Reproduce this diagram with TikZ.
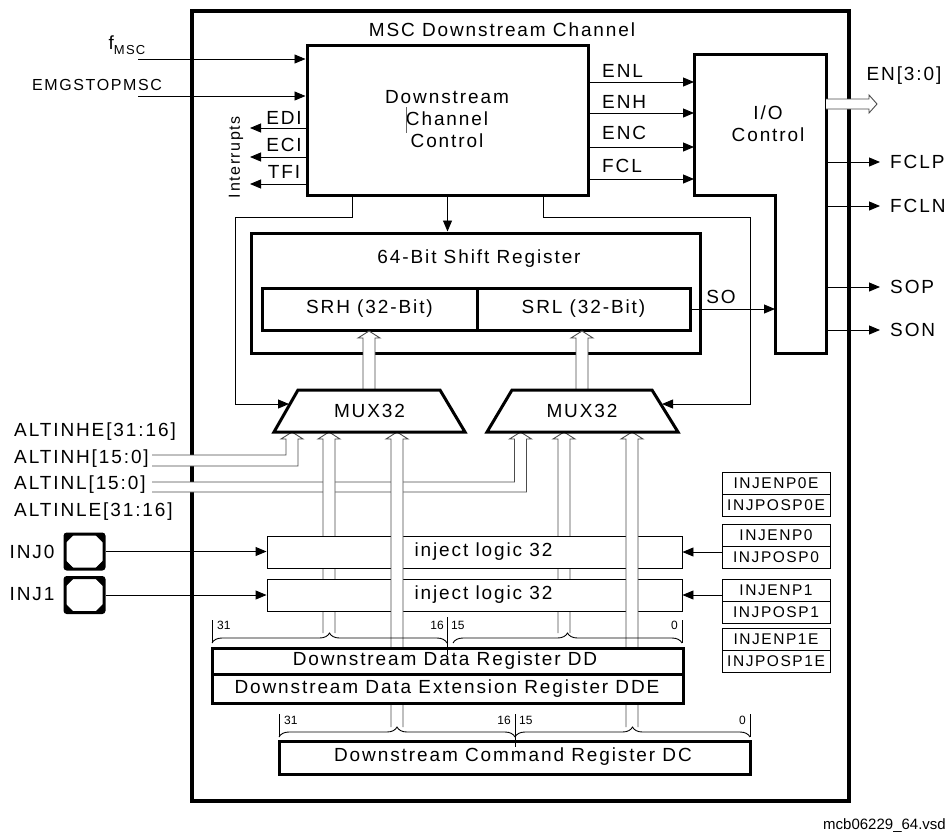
\documentclass[tikz,border=0pt]{standalone}
\usepackage{fontspec}
\setmainfont{Liberation Sans}[LetterSpace=10]
\newfontfamily\plainfont{Liberation Sans}
\usetikzlibrary{arrows.meta,decorations.pathreplacing,calc}
\newcommand\fsz[1]{\fontsize{#1}{#1}\selectfont}
\newcommand\hollowup[3]{\filldraw[hbus] (#1-6,#2) -- (#1-6,#3+7) -- (#1-11,#3+7) -- (#1,#3) -- (#1+11,#3+7) -- (#1+6,#3+7) -- (#1+6,#2);}
\newcommand\padcorners[1]{%
  \filldraw[line width=0.7pt] ($(#1.north west)+(3,3)$) -- ++(6,0) -- ++(-6,6) -- cycle;
  \filldraw[line width=0.7pt] ($(#1.north east)+(-3,3)$) -- ++(-6,0) -- ++(6,6) -- cycle;
  \filldraw[line width=0.7pt] ($(#1.south west)+(3,-3)$) -- ++(6,0) -- ++(-6,-6) -- cycle;
  \filldraw[line width=0.7pt] ($(#1.south east)+(-3,-3)$) -- ++(-6,0) -- ++(6,-6) -- cycle;}
\begin{document}
\begin{tikzpicture}[x=1pt,y=-1pt,
  tbox/.style={draw,line width=3pt,fill=white,inner sep=0pt},
  conn/.style={line width=0.9pt},
  arr/.style={conn,-{Triangle[length=11pt,width=9pt]}},
  hbus/.style={draw=black!70,fill=white,line width=0.9pt},
  lbl/.style={font=\fsz{19},inner sep=0pt},
  num/.style={font=\plainfont\fsz{12},inner sep=0pt},
  ibox/.style={draw,line width=1pt,fill=white,minimum width=108pt,minimum height=22pt,inner sep=0pt,font=\fsz{15.5}},
  pad/.style={draw,line width=3pt,rounded corners=2pt,minimum width=39pt,minimum height=35pt,inner sep=0pt},
  brc/.style={conn,decorate,decoration={brace,amplitude=10pt}}]
\useasboundingbox (0,0) rectangle (949,839);

% outer frame and title
\node[draw,line width=4pt,minimum width=657pt,minimum height=790pt,inner sep=0pt] (outer) at (520.5,406) {};
\node[lbl] (title) at (502,30) {MSC Downstream Channel};

% Downstream channel control
\node[tbox,minimum width=281pt,minimum height=150pt] (dcc) at (447.5,120) {};
\node[lbl,align=center,font=\fontsize{19}{22}\selectfont] (dcct) at (447,119) {Downstream\\Channel\\Control};
\draw[line width=0.6pt,black!60] (406,107) -- (406,133);

% inputs
\node[inner sep=0pt] (fmsc) at (127,45) {\fsz{19}f\raisebox{-5pt}{\fsz{13}MSC}};
\coordinate (fin) at (138,59);
\draw[arr] (fin) -- (fin -| dcc.west);
\node[lbl,font=\fsz{16}] (emg) at (97,85) {EMGSTOPMSC};
\coordinate (ein) at (138,96);
\draw[arr] (ein) -- (ein -| dcc.west);

% interrupts
\coordinate (edi) at (250,128);
\coordinate (eci) at (250,157);
\coordinate (tfi) at (250,184);
\draw[arr] (edi -| dcc.west) -- (edi);
\draw[arr] (eci -| dcc.west) -- (eci);
\draw[arr] (tfi -| dcc.west) -- (tfi);
\node[lbl] (edil) at (284,118) {EDI};
\node[lbl] (ecil) at (284,145) {ECI};
\node[lbl] (tfil) at (284,172) {TFI};
\node[lbl,font=\fsz{16},rotate=90] (intr) at (236,157) {Interrupts};

% I/O control
\draw[line width=3pt,fill=white] (694,54) coordinate (ioTL) -- (826,54) coordinate (ioTR) -- (826,353) -- (775,353) -- (775,195) coordinate (ioK) -- (694,195) -- cycle;
\node[lbl,align=center,font=\fontsize{19}{22}\selectfont] (iot) at (768,124) {I/O\\Control};

\foreach \yy/\nm/\ly in {82/ENL/71,113/ENH/102,147/ENC/133,179/FCL/166}{
  \draw[arr] (dcc.east |- 0,\yy) -- (ioTL |- 0,\yy);
  \node[lbl,anchor=west] at (602,\ly) {\nm};
}
\foreach \yy/\nm in {162/FCLP,206/FCLN,287/SOP,330/SON}{
  \coordinate (o\nm) at (880,\yy);
  \draw[arr] (ioTR |- o\nm) -- (o\nm);
  \node[lbl,anchor=west] at (890,\yy) {\nm};
}
\filldraw[hbus] (826,99) -- (869,99) -- (869,95) -- (877,104) -- (869,113) -- (869,109) -- (826,109);
\node[lbl] (enl) at (904,76) {EN[3:0]};

% shift register
\node[tbox,minimum width=449pt,minimum height=120pt] (sr) at (475.5,293) {};
\node[lbl] (srt) at (479,259) {64-Bit Shift Register};
\node[tbox,minimum width=215pt,minimum height=42pt] (srh) at (369.5,309) {};
\node[tbox,minimum width=213pt,minimum height=42pt] (srl) at (583.5,309) {};
\node[lbl] at (369.5,309) {SRH (32-Bit)};
\node[lbl] at (583.5,309) {SRL (32-Bit)};
\draw[arr] (dcc.south) -- (dcc.south |- sr.north);

% SO
\draw[arr] (srl.east) -- (srl.east -| ioK);
\node[lbl] (so) at (721,297) {SO};

% control lines to muxes
\draw[arr] (352,195) |- (235,217) |- (289,404);
\draw[arr] (543,195) |- (750,217) |- (662,404);

% buses up into SRH / SRL
\hollowup{369}{390}{331}
\hollowup{582}{390}{331}

% ALT buses
\filldraw[hbus] (152,455) -| (286,439) -- (281,439) -- (292,432) -- (303,439) -- (298,439) |- (152,466);
\filldraw[hbus] (152,482) -| (514.5,439) -- (509.5,439) -- (520.5,432) -- (531.5,439) -- (526.5,439) |- (152,492);
\node[lbl,anchor=west] at (14,432) {ALTINHE[31:16]};
\node[lbl,anchor=west] at (14,459) {ALTINH[15:0]};
\node[lbl,anchor=west] at (14,485) {ALTINL[15:0]};
\node[lbl,anchor=west] at (14,512) {ALTINLE[31:16]};

% DD buses
\hollowup{329}{633}{432}
\hollowup{564}{633}{432}

% inject logic
\node[draw,line width=0.9pt,fill=white,minimum width=415pt,minimum height=32pt,inner sep=0pt] (inj0) at (474.5,552) {};
\node[draw,line width=0.9pt,fill=white,minimum width=415pt,minimum height=32pt,inner sep=0pt] (inj1) at (474.5,595) {};
\node[lbl] at (483.5,552) {inject logic 32};
\node[lbl] at (483.5,595) {inject logic 32};

% DC buses
\hollowup{397}{727}{432}
\hollowup{632}{727}{432}

% muxes
\draw[line width=3pt,fill=white] (274,432) -- (298,390) -- (440,390) -- (465,432) -- cycle;
\node[lbl] (muxl) at (369.5,411) {MUX32};
\draw[line width=3pt,fill=white] (487,432) -- (512,390) -- (652,390) -- (678,432) -- cycle;
\node[lbl] (muxr) at (582,411) {MUX32};

% INJ pads
\node[pad] (pad0) at (84.5,551.5) {};
\node[pad] (pad1) at (84.5,595) {};
\padcorners{pad0}
\padcorners{pad1}
\node[lbl] at (32,552) {INJ0};
\node[lbl] at (32,594) {INJ1};
\draw[arr] (pad0.east) -- (pad0.east -| inj0.west);
\draw[arr] (pad1.east) -- (pad1.east -| inj1.west);

% INJENP boxes
\node[ibox] (ip0ea) at (776,483) {INJENP0E};
\node[ibox] (ip0eb) at (776,505) {INJPOSP0E};
\node[ibox] (ip0a) at (776,535) {INJENP0};
\node[ibox] (ip0b) at (776,557) {INJPOSP0};
\node[ibox] (ip1a) at (776,590) {INJENP1};
\node[ibox] (ip1b) at (776,612) {INJPOSP1};
\node[ibox] (ip1ea) at (776,639) {INJENP1E};
\node[ibox] (ip1eb) at (776,661) {INJPOSP1E};
\draw[arr] (inj0.east -| ip0a.west) -- (inj0.east);
\draw[arr] (inj1.east -| ip1a.west) -- (inj1.east);

% data registers
\node[tbox,minimum width=471pt,minimum height=26pt] (dd) at (447.5,661) {};
\node[tbox,minimum width=471pt,minimum height=29pt] (dde) at (447.5,688.5) {};
\node[lbl] at (445,661) {Downstream Data Register DD};
\node[lbl] at (447,689) {Downstream Data Extension Register DDE};
\node[tbox,minimum width=471pt,minimum height=33pt] (dc) at (514.5,757.5) {};
\node[lbl] at (513,757) {Downstream Command Register DC};

% braces DD
\draw[brc] (212,643) -- (447,643);
\draw[brc] (453,643) -- (682,643);
\draw[conn] (212,620) -- (212,643);
\draw[conn] (682,620) -- (682,643);
\draw[conn] (447,617) -- (447,655);
\node[num,anchor=west] at (217,625) {31};
\node[num,anchor=east] at (444,625) {16};
\node[num,anchor=west] at (451,625) {15};
\node[num,anchor=east] at (678,625) {0};
% braces DC
\draw[brc] (279,737) -- (515,737);
\draw[brc] (515,737) -- (750,737);
\draw[conn] (279,714) -- (279,737);
\draw[conn] (750,714) -- (750,737);
\draw[conn] (515,714) -- (515,747);
\node[num,anchor=west] at (284,720) {31};
\node[num,anchor=east] at (511,720) {16};
\node[num,anchor=west] at (519,720) {15};
\node[num,anchor=east] at (746,720) {0};

% footer
\node[inner sep=0pt,anchor=east,font=\plainfont\fsz{15}] (foot) at (946,826) {mcb06229\_64.vsd};
\end{tikzpicture}
\end{document}
